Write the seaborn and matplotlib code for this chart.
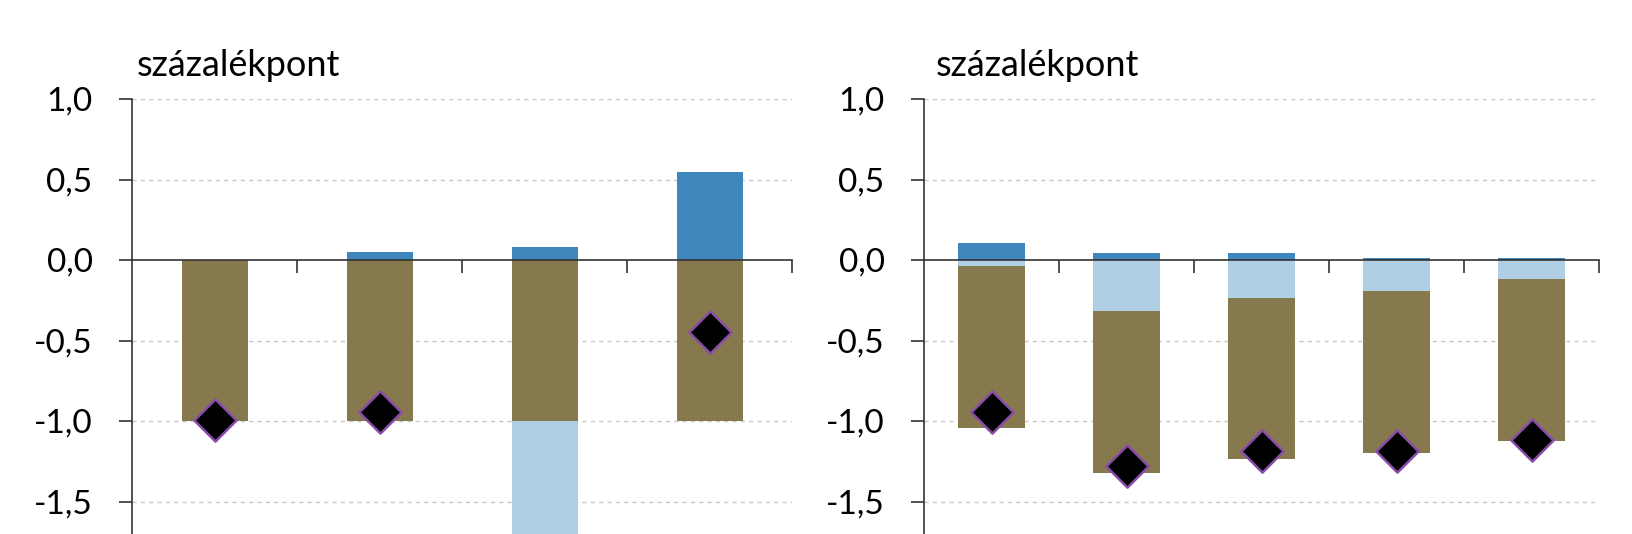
import numpy as np
import pandas as pd
import matplotlib
matplotlib.use("Agg")
import matplotlib.pyplot as plt
from matplotlib.ticker import FixedLocator, FuncFormatter, NullFormatter
import seaborn as sns

sns.set_theme(style="white")
plt.rcParams['font.family'] = ['Lato', 'DejaVu Sans']

# ---- data (left panel) ----
left_cats = ["A", "B", "C", "D"]
left_blue = [0.0, 0.048, 0.081, 0.545]          # positive contribution
left_brown = [-1.0, -1.0, -1.0, -1.0]           # first negative (stacked first)
left_light = [0.0, 0.0, -0.95, 0.0]             # second negative (stacked below brown)
left_total = [-0.994, -0.946, -1.90, -0.449]    # diamond markers

# ---- data (right panel) ----
right_cats = ["E", "F", "G", "H", "I"]
right_blue = [0.104, 0.041, 0.041, 0.010, 0.010]
right_light = [-0.037, -0.315, -0.238, -0.195, -0.118]   # stacked first
right_brown = [-1.009, -1.010, -0.998, -1.004, -1.006]   # stacked below light
right_total = [-0.942, -1.277, -1.186, -1.186, -1.118]

ytick_vals = [-1.5, -1.0, -0.5, 0.0, 0.5, 1.0]

C_BLUE = "#3F86BC"
C_LIGHT = "#B0CFE4"
C_BROWN = "#86794D"
C_EDGE = "#8A4CA8"

W, H = 1632, 534
fig = plt.figure(figsize=(W / 100, H / 100), dpi=100)

y_top_px, y_zero_px, px_per_unit = 99, 260, 161.0
y_bottom_val = -(H - y_zero_px) / px_per_unit


def make_axes(x0_px, x1_px):
    return fig.add_axes([x0_px / W, 0, (x1_px - x0_px) / W, 1 - y_top_px / H])


def style_axes(ax, cats, title_px):
    n = len(cats)
    ax.set_xlim(-0.5, n - 0.5)
    ax.set_ylim(y_bottom_val, 1.0)
    ax.set_xlabel("")
    ax.set_ylabel("")
    for s in ["top", "right"]:
        ax.spines[s].set_visible(False)
    ax.spines['bottom'].set_position(('data', 0))
    for s in ["left", "bottom"]:
        ax.spines[s].set_color("#333333")
        ax.spines[s].set_linewidth(1.2)
    ax.xaxis.set_major_locator(FixedLocator([i + 0.5 for i in range(n)]))
    ax.xaxis.set_major_formatter(NullFormatter())
    ax.yaxis.set_major_locator(FixedLocator(ytick_vals))
    ax.yaxis.set_major_formatter(FuncFormatter(lambda v, p: f"{v:.1f}".replace(".", ",")))
    ax.tick_params(axis='x', direction='out', length=9.4, width=1.2, color="#333333",
                   bottom=True)
    ax.tick_params(axis='y', direction='out', length=9.4, width=1.2, color="#333333",
                   left=True, labelsize=24, pad=19, labelcolor="black")
    for v in ytick_vals:
        if v != 0:
            ax.axhline(v, color="#C8C8C8", lw=1.0, ls=(0, (3, 3)), zorder=0)
    fig.text(title_px / W, 1 - 76 / H, "százalékpont", fontsize=26,
             va='baseline', ha='left', color="black")


def draw_bars(ax, cats, blue, first_neg, second_neg, c_first, c_second, total, width):
    df = pd.DataFrame({
        "cat": cats,
        "blue": blue,
        "first": first_neg,
        "cum": np.array(first_neg) + np.array(second_neg),
        "total": total,
    })
    kw = dict(order=cats, width=width, ax=ax, saturation=1, edgecolor="none", linewidth=0)
    sns.barplot(data=df, x="cat", y="cum", color=c_second, **kw)
    sns.barplot(data=df, x="cat", y="first", color=c_first, **kw)
    sns.barplot(data=df, x="cat", y="blue", color=C_BLUE, **kw)
    sns.scatterplot(data=df, x="cat", y="total", ax=ax, marker="D", s=21.5 ** 2,
                    color="black", edgecolor=C_EDGE, linewidth=1.8, zorder=5,
                    clip_on=True, legend=False)


axL = make_axes(132, 792)
draw_bars(axL, left_cats, left_blue, left_brown, left_light, C_BROWN, C_LIGHT,
          left_total, 0.4)
style_axes(axL, left_cats, 137)

axR = make_axes(924, 1599)
draw_bars(axR, right_cats, right_blue, right_light, right_brown, C_LIGHT, C_BROWN,
          right_total, 0.5)
style_axes(axR, right_cats, 936)

fig.savefig("out.png", dpi=100)
